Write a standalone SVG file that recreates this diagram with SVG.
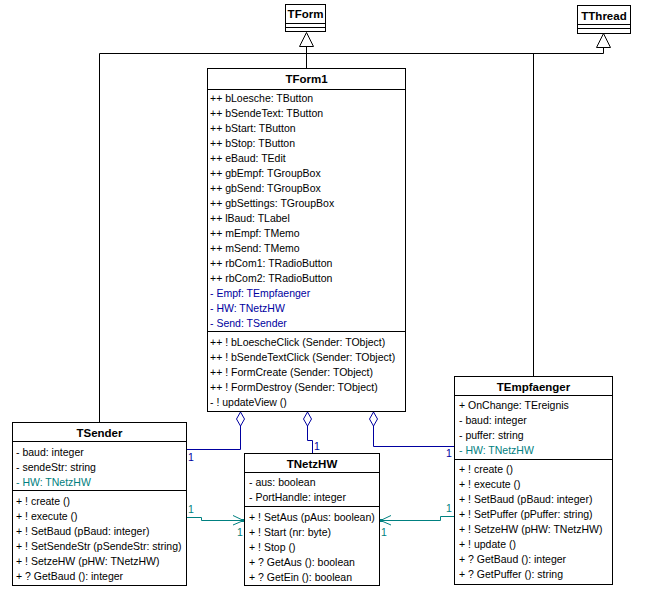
<svg xmlns="http://www.w3.org/2000/svg" width="656" height="598" viewBox="0 0 656 598">
<style>
text{font-family:"Liberation Sans",Arial,sans-serif;font-size:10.5px;fill:#000}
.t{font-weight:bold;font-size:11.5px;text-anchor:middle}
.b{fill:#0000a0}
.c{fill:#008080}
.box{fill:#fff;stroke:#000;stroke-width:1}
.ln{stroke:#000;stroke-width:1;fill:none}
.bl{stroke:#0000a0;stroke-width:1;fill:none}
.dm{stroke:#0000a0;stroke-width:1;fill:#fff}
.tl{stroke:#008080;stroke-width:1;fill:none}
.tri{fill:#fff;stroke:#000;stroke-width:1}
</style>
<rect width="656" height="598" fill="#fff"/>
<g id="connectors">
<path class="ln" d="M99.5 422 V53.5 H603.5 V47.5"/>
<path class="ln" d="M306.5 68 V46.5"/>
<path class="ln" d="M533.5 376 V53.5"/>
<polygon class="tri" points="306.5,32.5 313.5,46.5 299.5,46.5"/>
<polygon class="tri" points="603.5,33.5 610.5,47.5 596.5,47.5"/>
<path class="bl" d="M240.5 426 V449.5 H187"/>
<path class="bl" d="M307.5 426 V440.5 H312.5 V453"/>
<path class="bl" d="M373.5 426 V446.5 H454"/>
<polygon class="dm" points="240.5,412 244.5,419 240.5,426 236.5,419"/>
<polygon class="dm" points="307.5,412 311.5,419 307.5,426 303.5,419"/>
<polygon class="dm" points="373.5,412 377.5,419 373.5,426 369.5,419"/>
<text class="b" x="188" y="461">1</text>
<text class="b" x="314" y="450">1</text>
<text class="b" x="446" y="457">1</text>
<path class="tl" d="M187 517.5 H201.5 V520.5 H243"/>
<path class="tl" d="M233 515.5 L243.5 520.5 L233 525"/>
<rect x="241" y="519" width="3" height="3" fill="#008080"/>
<path class="tl" d="M454 516.5 H440.5 V520.5 H380"/>
<path class="tl" d="M391 515.5 L380.5 520.5 L391 525"/>
<rect x="380" y="519" width="3" height="3" fill="#008080"/>
<text class="c" x="188" y="513">1</text>
<text class="c" x="237" y="536">1</text>
<text class="c" x="446" y="512">1</text>
<text class="c" x="381" y="536">1</text>
</g>
<g id="TForm">
<rect class="box" x="285.5" y="4.5" width="40" height="27"/>
<path class="ln" d="M285.5 23.5 H325.5 M285.5 27.5 H325.5"/>
<text class="t" x="305.5" y="18">TForm</text>
</g>
<g id="TThread">
<rect class="box" x="577.5" y="5.5" width="53" height="28"/>
<path class="ln" d="M577.5 24.5 H630.5 M577.5 28.5 H630.5"/>
<text class="t" x="604" y="20">TThread</text>
</g>
<g id="TForm1">
<rect class="box" x="207.5" y="68.5" width="198" height="343"/>
<path class="ln" d="M207.5 89.5 H405.5 M207.5 331.5 H405.5"/>
<text class="t" x="306.5" y="83">TForm1</text>
<text x="210" y="102">++ bLoesche: TButton</text>
<text x="210" y="117">++ bSendeText: TButton</text>
<text x="210" y="132">++ bStart: TButton</text>
<text x="210" y="147">++ bStop: TButton</text>
<text x="210" y="162">++ eBaud: TEdit</text>
<text x="210" y="177">++ gbEmpf: TGroupBox</text>
<text x="210" y="192">++ gbSend: TGroupBox</text>
<text x="210" y="207">++ gbSettings: TGroupBox</text>
<text x="210" y="222">++ lBaud: TLabel</text>
<text x="210" y="237">++ mEmpf: TMemo</text>
<text x="210" y="252">++ mSend: TMemo</text>
<text x="210" y="267">++ rbCom1: TRadioButton</text>
<text x="210" y="282">++ rbCom2: TRadioButton</text>
<text class="b" x="210" y="297">- Empf: TEmpfaenger</text>
<text class="b" x="210" y="312">- HW: TNetzHW</text>
<text class="b" x="210" y="327">- Send: TSender</text>
<text x="210" y="346">++ ! bLoescheClick (Sender: TObject)</text>
<text x="210" y="361">++ ! bSendeTextClick (Sender: TObject)</text>
<text x="210" y="376">++ ! FormCreate (Sender: TObject)</text>
<text x="210" y="391">++ ! FormDestroy (Sender: TObject)</text>
<text x="210" y="406">- ! updateView ()</text>
</g>
<g id="TSender">
<rect class="box" x="12.5" y="422.5" width="174" height="163"/>
<path class="ln" d="M12.5 441.5 H186.5 M12.5 490.5 H186.5"/>
<text class="t" x="99.5" y="437">TSender</text>
<text x="16" y="456">- baud: integer</text>
<text x="16" y="471">- sendeStr: string</text>
<text class="c" x="16" y="486">- HW: TNetzHW</text>
<text x="16" y="505">+ ! create ()</text>
<text x="16" y="520">+ ! execute ()</text>
<text x="16" y="535">+ ! SetBaud (pBaud: integer)</text>
<text x="16" y="550">+ ! SetSendeStr (pSendeStr: string)</text>
<text x="16" y="565">+ ! SetzeHW (pHW: TNetzHW)</text>
<text x="16" y="580">+ ? GetBaud (): integer</text>
</g>
<g id="TNetzHW">
<rect class="box" x="244.5" y="453.5" width="135" height="132"/>
<path class="ln" d="M244.5 472.5 H379.5 M244.5 506.5 H379.5"/>
<text class="t" x="312" y="468">TNetzHW</text>
<text x="249" y="486">- aus: boolean</text>
<text x="249" y="501">- PortHandle: integer</text>
<text x="249" y="521">+ ! SetAus (pAus: boolean)</text>
<text x="249" y="536">+ ! Start (nr: byte)</text>
<text x="249" y="551">+ ! Stop ()</text>
<text x="249" y="566">+ ? GetAus (): boolean</text>
<text x="249" y="581">+ ? GetEin (): boolean</text>
</g>
<g id="TEmpfaenger">
<rect class="box" x="454.5" y="376.5" width="158" height="208"/>
<path class="ln" d="M454.5 395.5 H612.5 M454.5 459.5 H612.5"/>
<text class="t" x="533.5" y="391">TEmpfaenger</text>
<text x="459" y="409">+ OnChange: TEreignis</text>
<text x="459" y="424">- baud: integer</text>
<text x="459" y="439">- puffer: string</text>
<text class="c" x="459" y="454">- HW: TNetzHW</text>
<text x="459" y="473">+ ! create ()</text>
<text x="459" y="488">+ ! execute ()</text>
<text x="459" y="503">+ ! SetBaud (pBaud: integer)</text>
<text x="459" y="518">+ ! SetPuffer (pPuffer: string)</text>
<text x="459" y="533">+ ! SetzeHW (pHW: TNetzHW)</text>
<text x="459" y="548">+ ! update ()</text>
<text x="459" y="563">+ ? GetBaud (): integer</text>
<text x="459" y="578">+ ? GetPuffer (): string</text>
</g>
</svg>
